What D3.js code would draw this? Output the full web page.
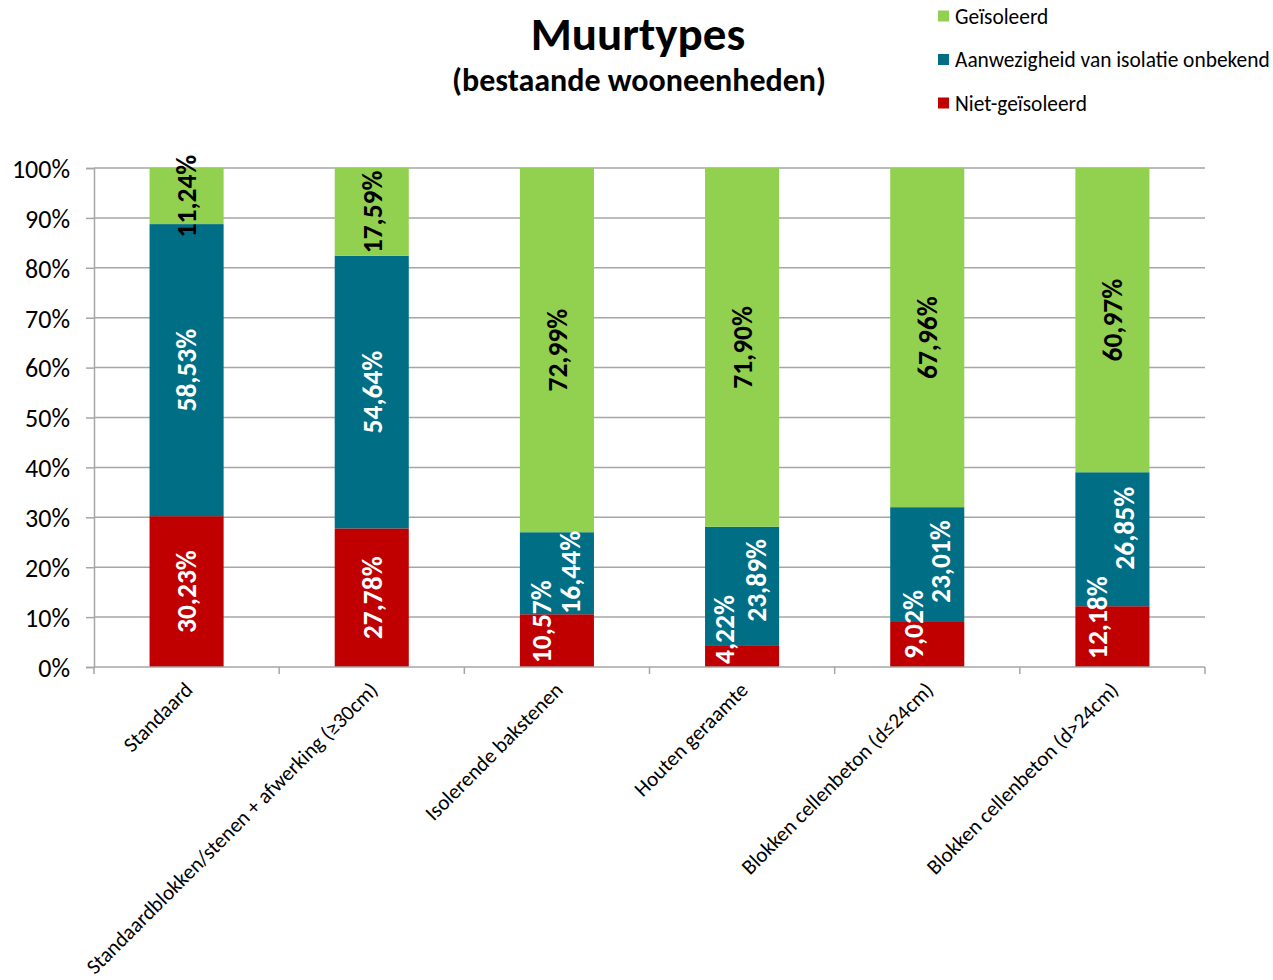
<!DOCTYPE html>
<html>
<head>
<meta charset="utf-8">
<script src="https://cdn.jsdelivr.net/npm/d3@7"></script>
<style>
  html, body { margin: 0; padding: 0; background: #fff; }
  svg { display: block; font-family: Carlito, Lato, "Open Sans", sans-serif; }
</style>
</head>
<body>
<svg id="chart" width="1273" height="980"></svg>
<script>
// Wall types of existing dwellings, share per insulation status
const categories = [
  "Standaard",
  "Standaardblokken/stenen + afwerking (\u226530cm)",
  "Isolerende bakstenen",
  "Houten geraamte",
  "Blokken cellenbeton (d\u226424cm)",
  "Blokken cellenbeton (d>24cm)"
];
const nietGeisoleerd = [30.23, 27.78, 10.57, 4.22, 9.02, 12.18];
const onbekend       = [58.53, 54.64, 16.44, 23.89, 23.01, 26.85];
const geisoleerd     = [11.24, 17.59, 72.99, 71.90, 67.96, 60.97];
const seriesNames = ["Niet-ge\u00efsoleerd", "Aanwezigheid van isolatie onbekend", "Ge\u00efsoleerd"];
const yTicks = [0, 10, 20, 30, 40, 50, 60, 70, 80, 90, 100];

// label offsets (px) where small segments would make labels collide
const labelShift = {
  "2-0": [-16, -19], "2-1": [13, -1],
  "3-0": [-18, -27], "3-1": [14, -6],
  "4-0": [-14, -20], "4-1": [13, -3],
  "5-0": [-15, -19], "5-1": [12, -11]
};

const colors = ["#C00000", "#006F86", "#92D050"];
const labelColors = ["#ffffff", "#ffffff", "#000000"];
const gridColor = "#A6A6A6";

const svg = d3.select("#chart");
const plotLeft = 94, plotRight = 1205, plotTop = 168, plotBottom = 667;

const x = d3.scaleBand().domain(categories).range([plotLeft, plotRight]).paddingInner(0.6).paddingOuter(0.3);
const y = d3.scaleLinear().domain([0, 100]).range([plotBottom, plotTop]);

// gridlines
svg.append("g").selectAll("line").data(yTicks.filter(t => t > 0)).join("line")
  .attr("x1", plotLeft).attr("x2", plotRight)
  .attr("y1", d => y(d)).attr("y2", d => y(d))
  .attr("stroke", gridColor).attr("stroke-width", 1.5);

// y axis
const yAxis = svg.append("g").attr("transform", `translate(${plotLeft},0)`)
  .call(d3.axisLeft(y).tickValues(yTicks).tickSize(8).tickFormat(d => d + "%"));
yAxis.select(".domain").attr("stroke", gridColor).attr("stroke-width", 1.5);
yAxis.selectAll(".tick line").attr("stroke", gridColor).attr("stroke-width", 1.5);
yAxis.selectAll(".tick text").attr("font-size", 26).attr("fill", "#000")
  .attr("font-family", "Carlito, Lato, sans-serif").attr("x", -24).attr("dy", "0.36em");

// stacked data
const rows = categories.map((c, i) => ({
  cat: c, i,
  vals: [nietGeisoleerd[i], onbekend[i], geisoleerd[i]]
}));
const segs = [];
rows.forEach(r => {
  let acc = 0;
  r.vals.forEach((v, s) => {
    segs.push({ cat: r.cat, i: r.i, s, y0: acc, y1: acc + v, v });
    acc += v;
  });
});

svg.append("g").selectAll("rect").data(segs).join("rect")
  .attr("x", d => x(d.cat))
  .attr("width", x.bandwidth())
  .attr("y", d => y(Math.min(d.y1, 100)))
  .attr("height", d => y(d.y0) - y(Math.min(d.y1, 100)))
  .attr("fill", d => colors[d.s]);

// x axis with ticks at category boundaries
const bounds = d3.range(categories.length + 1).map(k => plotLeft + k * x.step());
svg.append("line").attr("x1", plotLeft).attr("x2", plotRight).attr("y1", plotBottom).attr("y2", plotBottom)
  .attr("stroke", gridColor).attr("stroke-width", 1.5);
svg.append("g").selectAll("line").data(bounds).join("line")
  .attr("x1", d => d).attr("x2", d => d).attr("y1", plotBottom).attr("y2", plotBottom + 7)
  .attr("stroke", gridColor).attr("stroke-width", 1.5);

// category labels
svg.append("g").selectAll("text").data(categories).join("text")
  .attr("transform", d => `translate(${x(d) + x.bandwidth() / 2 + 2},${plotBottom + 19}) rotate(-45)`)
  .attr("text-anchor", "end")
  .attr("dy", "0.35em")
  .attr("font-size", 21.2)
  .attr("fill", "#000")
  .text(d => d);

// value labels
const fmt = v => v.toFixed(2).replace(".", ",") + "%";
svg.append("g").selectAll("text").data(segs).join("text")
  .attr("transform", d => {
    const sh = labelShift[d.i + "-" + d.s] || [0, 0];
    const cx = x(d.cat) + x.bandwidth() / 2 + sh[0];
    const cy = (y(d.y0) + y(Math.min(d.y1, 100))) / 2 + sh[1];
    return `translate(${cx},${cy}) rotate(-90)`;
  })
  .attr("text-anchor", "middle")
  .attr("dy", "0.36em")
  .attr("font-size", 27.5)
  .attr("font-weight", "bold")
  .attr("fill", d => labelColors[d.s])
  .text(d => fmt(d.v));

// title
svg.append("text").attr("x", 638).attr("y", 50).attr("text-anchor", "middle")
  .attr("font-size", 47).attr("font-weight", "bold").text("Muurtypes");
svg.append("text").attr("x", 639).attr("y", 91).attr("text-anchor", "middle")
  .attr("font-size", 32).attr("font-weight", "bold").text("(bestaande wooneenheden)");

// legend
const legendOrder = [2, 1, 0];
const lg = svg.append("g").selectAll("g").data(legendOrder).join("g")
  .attr("transform", (d, k) => `translate(938,${16 + k * 43.5})`);
lg.append("rect").attr("x", 0).attr("y", -5.5).attr("width", 11).attr("height", 11)
  .attr("fill", d => colors[d]);
lg.append("text").attr("x", 17).attr("dy", "0.35em").attr("font-size", 21.4)
  .attr("fill", "#000").text(d => seriesNames[d]);
</script>
</body>
</html>
